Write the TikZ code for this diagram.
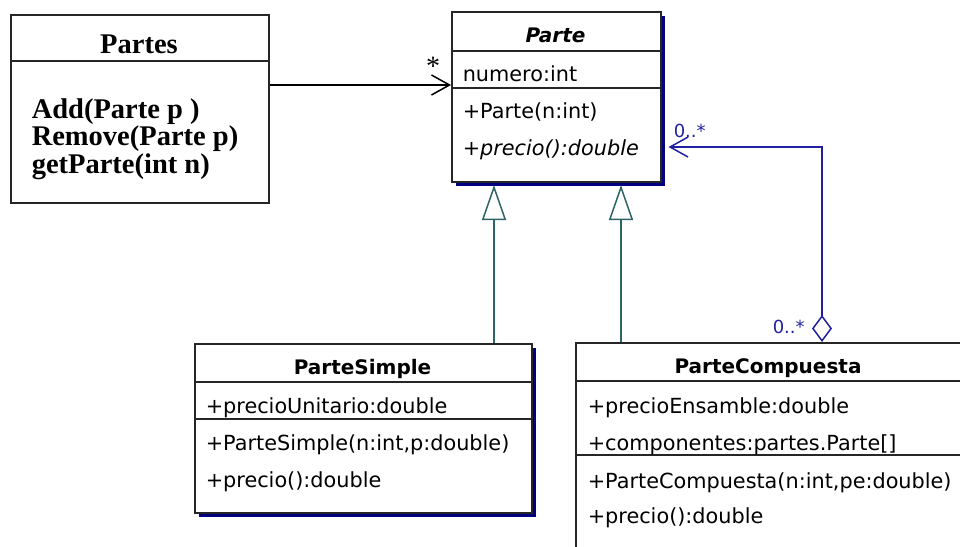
\documentclass[tikz,border=0pt]{standalone}
\usepackage{fontspec}
\setmainfont{Liberation Serif}
\setsansfont{DejaVu Sans}
\usepackage{tikz}
\usetikzlibrary{arrows.meta,shadows,positioning}
\definecolor{umlnavy}{RGB}{0,0,128}
\definecolor{linkblue}{RGB}{32,32,160}
\definecolor{inhteal}{RGB}{45,100,100}
\tikzstyle{class box}=[rectangle, draw=black!85, line width=1.5pt, fill=white, inner sep=0pt, anchor=north west]
\tikzstyle{shadowed}=[drop shadow={shadow xshift=4pt, shadow yshift=-4pt, fill=umlnavy, opacity=1}]
\tikzstyle{member}=[anchor=base west, inner sep=0pt, font=\sffamily\fontsize{20.8}{24}\selectfont]
\tikzstyle{class name}=[anchor=base, inner sep=0pt, font=\sffamily\bfseries\fontsize{20}{24}\selectfont]
\tikzstyle{operation}=[anchor=base west, inner sep=0pt, font=\bfseries\fontsize{28.5}{32}\selectfont]
\tikzstyle{mult}=[anchor=base west, inner sep=0pt, text=linkblue, font=\sffamily\fontsize{18}{20}\selectfont]

\begin{document}
\begin{tikzpicture}[x=1pt,y=-1pt,line width=1.5pt]
  \useasboundingbox (0,0) rectangle (960,546);
  \clip (0,0) rectangle (960,546);

  % plain box on the left
  \node[class box, minimum width=258pt, minimum height=188pt] (partes) at (10,14) {};
  \draw[black!85] (partes.north west) ++(0,47) -- ++(258,0);
  \node[anchor=base, inner sep=0pt, font=\bfseries\fontsize{28.5}{32}\selectfont] (partesName) at (139,53) {Partes};
  \node[operation] (opAdd) at (31,118) {Add(Parte p )};
  \node[operation] (opRemove) at (31,145) {Remove(Parte p)};
  \node[operation] (opGet) at (31,173) {getParte(int n)};

  % abstract class
  \node[class box, shadowed, minimum width=209pt, minimum height=170pt] (parte) at (451,11) {};
  \draw[black!85] (parte.north west) ++(0,40) -- ++(209,0);
  \draw[black!85] (parte.north west) ++(0,77) -- ++(209,0);
  \node[class name, font=\sffamily\bfseries\itshape\fontsize{20}{24}\selectfont] (parteName) at (555.5,42) {Parte};
  \node[member] (parteNum) at (462,81) {numero:int};
  \node[member] (parteCtor) at (462,118) {+Parte(n:int)};
  \node[member] (partePrecio) at (462,155) {+\textit{precio():double}};

  % leaf
  \node[class box, shadowed, minimum width=337pt, minimum height=169pt] (simple) at (194,343) {};
  \draw[black!85] (simple.north west) ++(0,39) -- ++(337,0);
  \draw[black!85] (simple.north west) ++(0,76) -- ++(337,0);
  \node[class name] (simpleName) at (362.5,374) {ParteSimple};
  \node[member] (simpleAttr) at (205,413) {+precioUnitario:double};
  \node[member] (simpleCtor) at (205,450) {+ParteSimple(n:int,p:double)};
  \node[member] (simplePrecio) at (205,487) {+precio():double};

  % composite
  \node[class box, shadowed, minimum width=420pt, minimum height=240pt] (compuesta) at (575,342) {};
  \draw[black!85] (compuesta.north west) ++(0,39) -- ++(420,0);
  \draw[black!85] (compuesta.north west) ++(0,113) -- ++(420,0);
  \node[class name] (compuestaName) at (768,373) {ParteCompuesta};
  \node[member] (compEns) at (587,413) {+precioEnsamble:double};
  \node[member] (compComp) at (587,450) {+componentes:partes.Parte[]};
  \node[member] (compCtor) at (587,488) {+ParteCompuesta(n:int,pe:double)};
  \node[member] (compPrecio) at (587,523) {+precio():double};

  % association
  \coordinate (assocY) at (0,85);
  \draw[-{Straight Barb[length=18pt,width=20pt,line width=1.5pt]}] (partes.east |- assocY) -- (parte.west |- assocY);
  \node[anchor=center, inner sep=0pt, font=\fontsize{28}{30}\selectfont] (assocMult) at (433,66) {*};

  % inheritance
  \coordinate (tipY) at (0,185);
  \draw[inhteal, -{Triangle[open, length=35pt, width=24pt, line width=1.5pt]}] (simple.north -| 494,0) -- (tipY -| 494,0);
  \draw[inhteal, -{Triangle[open, length=35pt, width=24pt, line width=1.5pt]}] (compuesta.north -| 621,0) -- (tipY -| 621,0);

  % aggregation
  \coordinate (aggY) at (0,147);
  \coordinate (aggX) at (822,0);
  \draw[linkblue, {Diamond[open, length=27pt, width=20pt, line width=1.5pt]}-{Straight Barb[length=18pt,width=20pt,line width=1.5pt]}]
    (compuesta.north -| aggX) -- (aggX |- aggY) -- ([xshift=7pt]parte.east |- aggY);
  \node[mult] (aggMultTop) at (673,137) {0..*};
  \node[mult] (aggMultBottom) at (772,333) {0..*};
\end{tikzpicture}
\end{document}
